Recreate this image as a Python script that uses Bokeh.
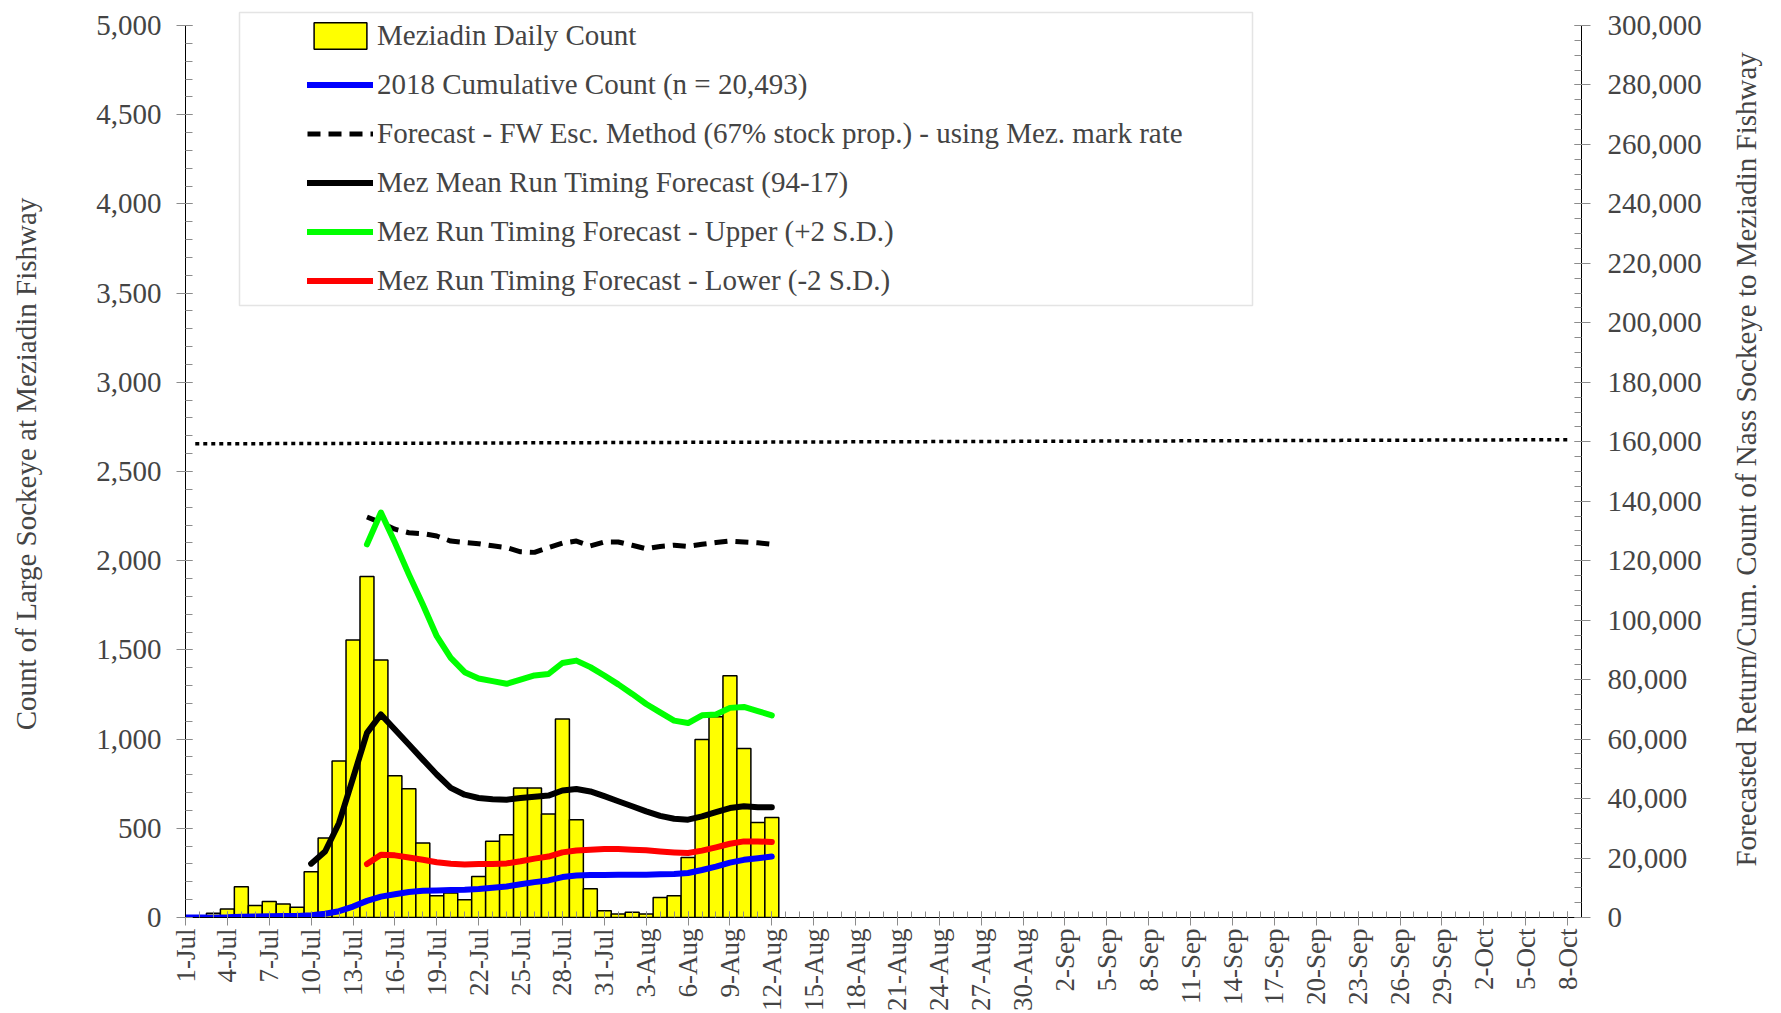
import math
from bokeh.plotting import figure
from bokeh.models import (Range1d, LinearAxis, FixedTicker, SingleIntervalTicker,
                          NumeralTickFormatter, Legend, LegendItem, BoxAnnotation)
from bokeh.embed import file_html
from bokeh.resources import INLINE

# ---------------- data (day index 0 = 1-Jul) ----------------
days = list(range(0, 43))
daily_count = [2, 8, 24, 47, 172, 67, 90, 75, 58, 256,
               445, 877, 1555, 1912, 1443, 795, 722, 417, 122, 137,
               99, 230, 427, 464, 726, 726, 580, 1112, 548, 161,
               38, 19, 30, 19, 112, 122, 337, 998, 1125, 1355,
               947, 533, 561]
cumulative_count = [2, 10, 34, 81, 253, 320, 410, 485, 543, 799,
                    1244, 2121, 3676, 5588, 7031, 7826, 8548, 8965, 9087, 9224,
                    9323, 9553, 9980, 10444, 11170, 11896, 12476, 13588, 14136, 14297,
                    14335, 14354, 14384, 14403, 14515, 14637, 14974, 15972, 17097, 18452,
                    19399, 19932, 20493]

fw_days = list(range(13, 43))
fw_forecast = [134700, 132800, 130600, 129400, 129100, 128300, 126600, 126100, 125700, 125000,
               124400, 123000, 122800, 124400, 125900, 126600, 125000, 126300, 126300, 125200,
               124000, 124800, 125200, 124800, 125500, 126100, 126600, 126300, 126000, 125500]

mean_days = list(range(9, 43))
mean_forecast = [18100, 22200, 31800, 46900, 62100, 68300, 63200, 58200, 53100, 48100,
                 43600, 41300, 40200, 39800, 39600, 40200, 40600, 41000, 42700, 43200,
                 42400, 40800, 39100, 37400, 35700, 34200, 33200, 32900, 34000, 35400,
                 36800, 37400, 37100, 37100]

band_days = list(range(13, 43))
upper_forecast = [125500, 136200, 126100, 115400, 105300, 94600, 87300, 82500, 80400, 79500,
                  78600, 80000, 81400, 81900, 85600, 86400, 84200, 81400, 78400, 75200,
                  71800, 69000, 66200, 65400, 68000, 68300, 70500, 70800, 69400, 68000]
lower_forecast = [18000, 21100, 20900, 20200, 19400, 18600, 18100, 17800, 18000, 18000,
                  18200, 18900, 19800, 20500, 21900, 22500, 22800, 23000, 23000, 22800,
                  22600, 22200, 21900, 21700, 22500, 23600, 24800, 25600, 25600, 25400]

target_days = [0.7, 99.1]
target_value = [159300, 160700]

tick_days = list(range(0, 100, 3))
tick_labels = ["1-Jul", "4-Jul", "7-Jul", "10-Jul", "13-Jul", "16-Jul", "19-Jul", "22-Jul",
               "25-Jul", "28-Jul", "31-Jul", "3-Aug", "6-Aug", "9-Aug", "12-Aug", "15-Aug",
               "18-Aug", "21-Aug", "24-Aug", "27-Aug", "30-Aug", "2-Sep", "5-Sep", "8-Sep",
               "11-Sep", "14-Sep", "17-Sep", "20-Sep", "23-Sep", "26-Sep", "29-Sep", "2-Oct",
               "5-Oct", "8-Oct"]

legend_labels = ["Meziadin Daily Count",
                 "2018 Cumulative Count (n = 20,493)",
                 "Forecast - FW Esc. Method (67% stock prop.) - using Mez. mark rate",
                 "Mez Mean Run Timing Forecast (94-17)",
                 "Mez Run Timing Forecast - Upper (+2 S.D.)",
                 "Mez Run Timing Forecast - Lower (-2 S.D.)"]

left_title = "Count of Large Sockeye at Meziadin Fishway"
right_title = "Forecasted Return/Cum. Count of Nass Sockeye to Meziadin Fishway"

LEFT_MAX = 5000
RIGHT_MAX = 300000
RIGHT_TITLE_START = 17150   # right-axis value where the rotated right title begins
FONT = "Liberation Serif"
FS = "29px"

# frame extends 15px above the top of the axes so the legend box can sit there
EXTRA = 1 + 15 / 892

p = figure(width=1781, height=1013, x_range=Range1d(0, 100),
           y_range=Range1d(0, LEFT_MAX * EXTRA),
           output_backend="svg", toolbar_location=None,
           min_border_left=185, min_border_right=200, min_border_top=10, min_border_bottom=0)
p.extra_y_ranges = {"right": Range1d(0, RIGHT_MAX * EXTRA)}
p.outline_line_color = None
p.xgrid.visible = False
p.ygrid.visible = False
p.background_fill_color = "white"
p.border_fill_color = "white"

# x axis
xa = p.xaxis[0]
xa.ticker = FixedTicker(ticks=tick_days, minor_ticks=list(range(0, 101)))
xa.major_label_overrides = {d: t for d, t in zip(tick_days, tick_labels)}
xa.major_label_orientation = math.pi / 2
xa.major_label_text_font = FONT
xa.major_label_text_font_size = "27px"
xa.major_label_standoff = 3
xa.axis_line_color = "black"
xa.major_tick_line_color = "#8c8c8c"
xa.minor_tick_line_color = "#8c8c8c"
xa.major_tick_out = 8
xa.major_tick_in = 6
xa.minor_tick_in = 6
xa.minor_tick_out = 0

# left axis
ya = p.yaxis[0]
ya.bounds = (0, LEFT_MAX)
ya.ticker = SingleIntervalTicker(interval=500, num_minor_ticks=5)
ya.formatter = NumeralTickFormatter(format="0,0")
ya.axis_label = left_title
ya.axis_label_text_font = FONT
ya.axis_label_text_font_size = FS
ya.axis_label_text_font_style = "normal"
ya.axis_label_standoff = 51
ya.major_label_text_font = FONT
ya.major_label_text_font_size = FS
ya.major_label_standoff = 15
ya.axis_line_color = "black"
ya.major_tick_line_color = "#8c8c8c"
ya.minor_tick_line_color = "#8c8c8c"
ya.major_tick_out = 9
ya.major_tick_in = 7
ya.minor_tick_in = 7
ya.minor_tick_out = 0

# right axis (ticks and numbers)
ra = LinearAxis(y_range_name="right")
ra.bounds = (0, RIGHT_MAX)
ra.ticker = SingleIntervalTicker(interval=20000, num_minor_ticks=4)
ra.formatter = NumeralTickFormatter(format="0,0")
ra.major_label_text_font = FONT
ra.major_label_text_font_size = FS
ra.major_label_standoff = 17
ra.axis_line_color = "black"
ra.major_tick_line_color = "#8c8c8c"
ra.minor_tick_line_color = "#8c8c8c"
ra.major_tick_out = 9
ra.major_tick_in = 7
ra.minor_tick_in = 7
ra.minor_tick_out = 0
p.add_layout(ra, "right")

# right title, carried by an otherwise invisible axis so it reads bottom-to-top
ta = LinearAxis(y_range_name="right")
ta.ticker = FixedTicker(ticks=[RIGHT_TITLE_START], minor_ticks=[])
ta.major_label_overrides = {RIGHT_TITLE_START: right_title}
ta.major_label_orientation = math.pi / 2
ta.major_label_text_font = FONT
ta.major_label_text_font_size = FS
ta.major_label_standoff = 42
ta.axis_line_color = None
ta.major_tick_line_color = None
ta.minor_tick_line_color = None
ta.major_tick_out = 0
ta.major_tick_in = 0
p.add_layout(ta, "right")

# glyphs
r_bar = p.vbar(x=days, top=daily_count, width=1, fill_color="#FFFF00",
               line_color="black", line_width=1.5)
r_tgt = p.line(target_days, target_value, y_range_name="right", line_color="black",
               line_width=3.5, line_dash="4 4")
r_fw = p.line(fw_days, fw_forecast, y_range_name="right", line_color="black",
              line_width=5, line_dash="13 8", line_join="round")
r_up = p.line(band_days, upper_forecast, y_range_name="right", line_color="#00FF00",
              line_width=6, line_join="round", line_cap="round")
r_mean = p.line(mean_days, mean_forecast, y_range_name="right", line_color="black",
                line_width=6, line_join="round", line_cap="round")
r_low = p.line(band_days, lower_forecast, y_range_name="right", line_color="#FF0000",
               line_width=6, line_join="round", line_cap="round")
r_cum = p.line(days, cumulative_count, y_range_name="right", line_color="#0000FF",
               line_width=6, line_join="round", line_cap="round")

# legend box + legend (screen units measured from the frame's bottom-left)
box = BoxAnnotation(left=54, right=1067, top=905, bottom=612,
                    left_units="screen", right_units="screen",
                    top_units="screen", bottom_units="screen",
                    fill_color="white", fill_alpha=1.0,
                    line_color="#a6a6a6", line_width=1.5, level="annotation")
p.add_layout(box)

legend = Legend(items=[LegendItem(label=l, renderers=[r]) for l, r in
                       zip(legend_labels, [r_bar, r_cum, r_fw, r_mean, r_up, r_low])],
                location=(122, 620), padding=0, spacing=16,
                glyph_width=66, glyph_height=33, label_height=33, label_standoff=4,
                label_text_font=FONT, label_text_font_size=FS,
                border_line_alpha=0, background_fill_alpha=0)
p.add_layout(legend)

open("out.html", "w").write(file_html(p, INLINE))
